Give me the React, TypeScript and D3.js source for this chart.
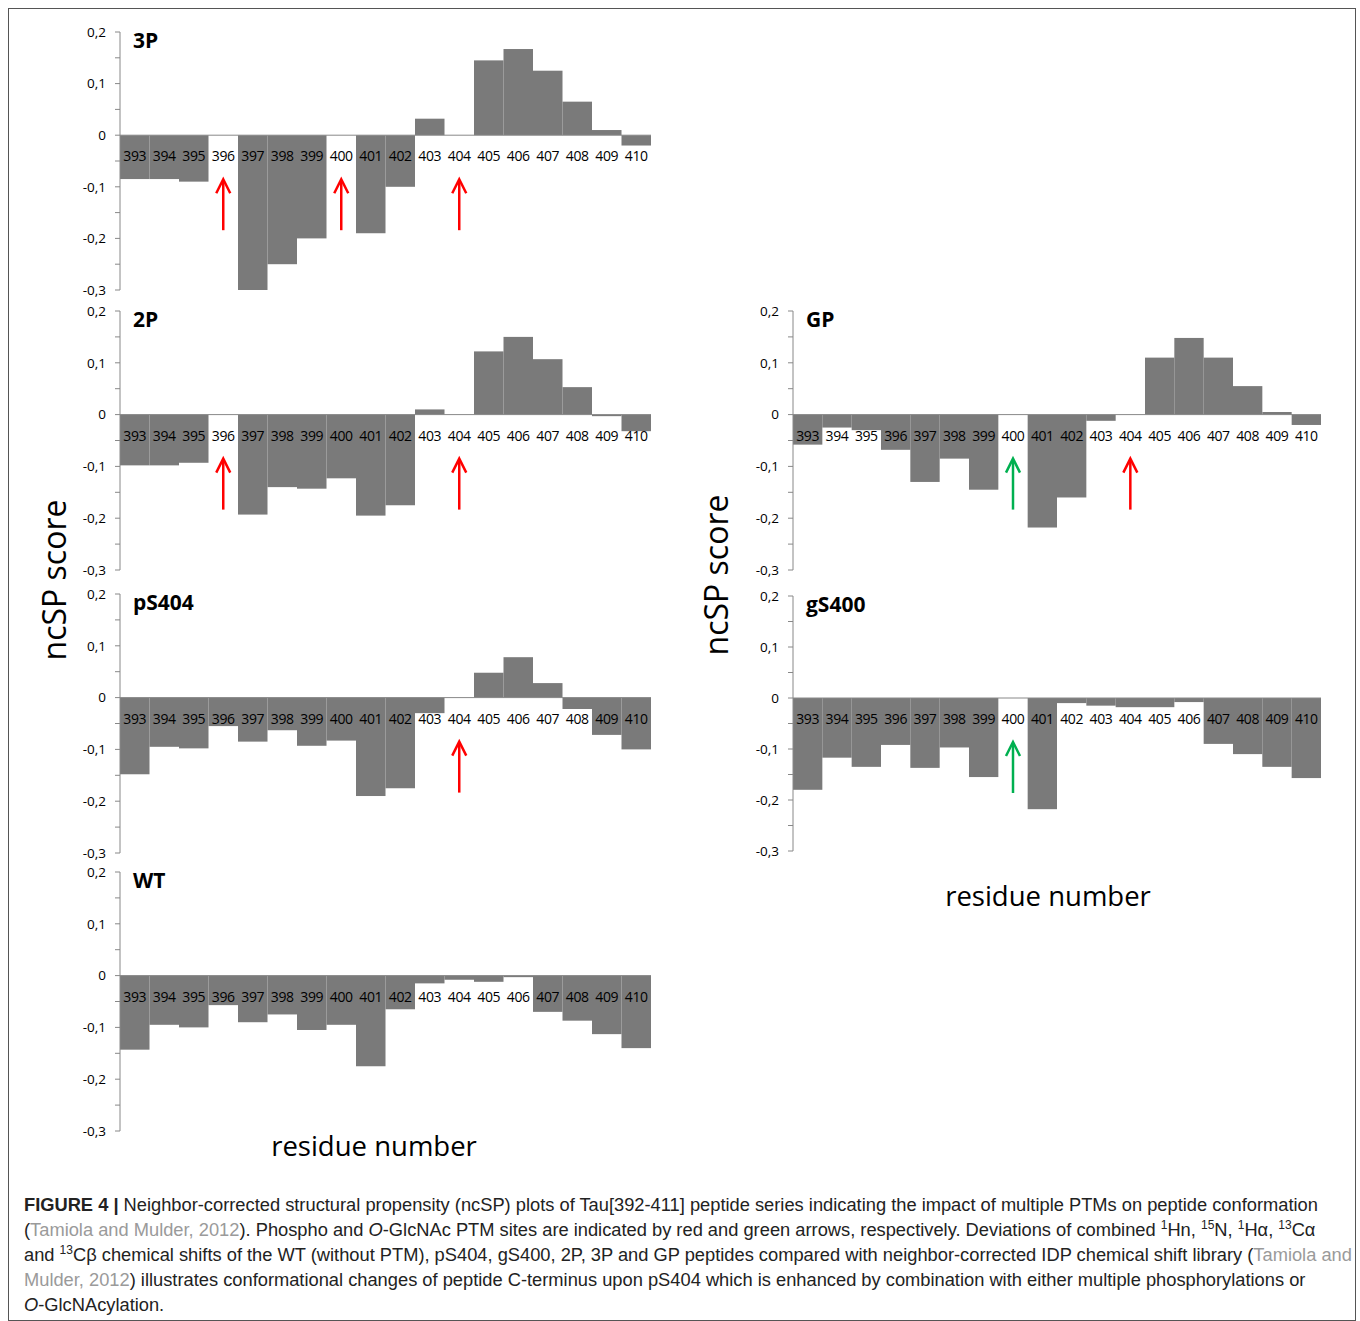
import React from "react";
import * as d3 from "d3";

const residues = [393,394,395,396,397,398,399,400,401,402,403,404,405,406,407,408,409,410];
const v3P = [-0.085,-0.085,-0.09,null,-0.3,-0.25,-0.2,null,-0.19,-0.1,0.032,null,0.145,0.167,0.125,0.065,0.01,-0.02];
const v2P = [-0.098,-0.098,-0.093,null,-0.193,-0.14,-0.143,-0.123,-0.195,-0.175,0.01,null,0.122,0.15,0.107,0.053,-0.003,-0.032];
const vPS404 = [-0.148,-0.095,-0.098,-0.055,-0.085,-0.063,-0.093,-0.083,-0.19,-0.175,-0.03,null,0.048,0.078,0.028,-0.022,-0.072,-0.1];
const vWT = [-0.143,-0.095,-0.1,-0.057,-0.09,-0.075,-0.105,-0.095,-0.175,-0.065,-0.015,-0.008,-0.012,-0.003,-0.07,-0.087,-0.113,-0.14];
const vGP = [-0.058,-0.025,-0.03,-0.068,-0.13,-0.085,-0.145,null,-0.218,-0.16,-0.012,null,0.11,0.148,0.11,0.055,0.005,-0.02];
const vGS400 = [-0.18,-0.117,-0.135,-0.092,-0.137,-0.097,-0.155,null,-0.218,-0.01,-0.015,-0.018,-0.018,-0.008,-0.09,-0.11,-0.135,-0.157];
const yTicks = [0.2,0.1,0,-0.1,-0.2,-0.3];

type P = { title: string; vals: (number|null)[]; x0: number; x1: number; yTop: number; yBot: number; red: number[]; green: number[] };
const panels: P[] = [
  { title: "3P", vals: v3P, x0: 120, x1: 651, yTop: 32, yBot: 290, red: [396,400,404], green: [] },
  { title: "2P", vals: v2P, x0: 120, x1: 651, yTop: 311, yBot: 570, red: [396,404], green: [] },
  { title: "pS404", vals: vPS404, x0: 120, x1: 651, yTop: 594, yBot: 853, red: [404], green: [] },
  { title: "WT", vals: vWT, x0: 120, x1: 651, yTop: 872, yBot: 1131, red: [], green: [] },
  { title: "GP", vals: vGP, x0: 793, x1: 1321, yTop: 311, yBot: 570, red: [404], green: [400] },
  { title: "gS400", vals: vGS400, x0: 793, x1: 1321, yTop: 596, yBot: 851, red: [], green: [400] },
];

const fmt = (t: number) => (t === 0 ? "0" : t.toFixed(1).replace(".", ","));
const sans = "'Open Sans', 'Noto Sans', sans-serif";

function Panel({ p }: { p: P }) {
  const x = d3.scaleBand<number>().domain(residues).range([p.x0, p.x1]).padding(0);
  const y = d3.scaleLinear().domain([0.2, -0.3]).range([p.yTop, p.yBot]);
  const minor = d3.range(-0.3, 0.2001, 0.05);
  const z = y(0);
  return (
    <g>
      {p.vals.map((v, i) => v === null ? null : (
        <rect key={i} x={x(residues[i])} width={x.bandwidth()} y={Math.min(y(v), z)} height={Math.abs(y(v) - z)} fill="#7a7a7a" />
      ))}
      <line x1={p.x0} x2={p.x1} y1={z} y2={z} stroke="#888" />
      <line x1={p.x0} x2={p.x0} y1={p.yTop} y2={p.yBot} stroke="#888" />
      {minor.map((t, i) => <line key={i} x1={p.x0 - 5} x2={p.x0} y1={y(t)} y2={y(t)} stroke="#888" />)}
      {yTicks.map(t => (
        <text key={t} x={p.x0 - 14} y={y(t)} dy="0.35em" textAnchor="end" fontSize={13.5} fontFamily={sans}>{fmt(t)}</text>
      ))}
      {residues.map(r => (
        <text key={r} x={x(r)! + x.bandwidth() / 2} y={z + 26} textAnchor="middle" fontSize={14} letterSpacing={-0.4} fontFamily={sans}>{r}</text>
      ))}
      <text x={p.x0 + 13} y={p.yTop + 16} fontSize={21} fontWeight="bold" fontFamily={sans}>{p.title}</text>
      {[...p.red.map(r => [r, "#ff0000"] as const), ...p.green.map(r => [r, "#00b050"] as const)].map(([r, c]) => {
        const cx = x(r as number)! + x.bandwidth() / 2;
        return (
          <g key={r as number}>
            <line x1={cx} x2={cx} y1={z + 95} y2={z + 46} stroke={c} strokeWidth={2.5} />
            <path d={`M${cx - 7},${z + 58} L${cx},${z + 44} L${cx + 7},${z + 58}`} fill="none" stroke={c} strokeWidth={2.5} />
          </g>
        );
      })}
    </g>
  );
}

const cap = { fontSize: 18.3, fontFamily: "Arial, 'Liberation Sans', sans-serif", fill: "#222" };
const grey = "#9a9a9a";
const Sup = ({ t }: { t: string }) => <tspan baselineShift="super" fontSize={12}>{t}</tspan>;

export default function App() {
  return (
    <svg width={1360} height={1321} style={{ position: "absolute", left: 0, top: 0, display: "block" }}>
      <rect x={8.5} y={8.5} width={1347} height={1312} fill="none" stroke="#555" />
      {panels.map(p => <Panel key={p.title} p={p} />)}
      <text transform="translate(66,580) rotate(-90)" textAnchor="middle" fontSize={32} fontFamily={sans}>ncSP score</text>
      <text transform="translate(728,575) rotate(-90)" textAnchor="middle" fontSize={32} fontFamily={sans}>ncSP score</text>
      <text x={374} y={1156} textAnchor="middle" fontSize={27.5} fontFamily={sans}>residue number</text>
      <text x={1048} y={906} textAnchor="middle" fontSize={27.5} fontFamily={sans}>residue number</text>
      <g {...cap}>
        <text x={24} y={1211}><tspan fontWeight="bold">FIGURE 4 |</tspan> Neighbor-corrected structural propensity (ncSP) plots of Tau[392-411] peptide series indicating the impact of multiple PTMs on peptide conformation</text>
        <text x={24} y={1236}>(<tspan fill={grey}>Tamiola and Mulder, 2012</tspan>). Phospho and <tspan fontStyle="italic">O</tspan>-GlcNAc PTM sites are indicated by red and green arrows, respectively. Deviations of combined <Sup t="1" />Hn, <Sup t="15" />N, <Sup t="1" />Hα, <Sup t="13" />Cα</text>
        <text x={24} y={1261}>and <Sup t="13" />Cβ chemical shifts of the WT (without PTM), pS404, gS400, 2P, 3P and GP peptides compared with neighbor-corrected IDP chemical shift library (<tspan fill={grey}>Tamiola and</tspan></text>
        <text x={24} y={1286}><tspan fill={grey}>Mulder, 2012</tspan>) illustrates conformational changes of peptide C-terminus upon pS404 which is enhanced by combination with either multiple phosphorylations or</text>
        <text x={24} y={1311}><tspan fontStyle="italic">O</tspan>-GlcNAcylation.</text>
      </g>
    </svg>
  );
}
